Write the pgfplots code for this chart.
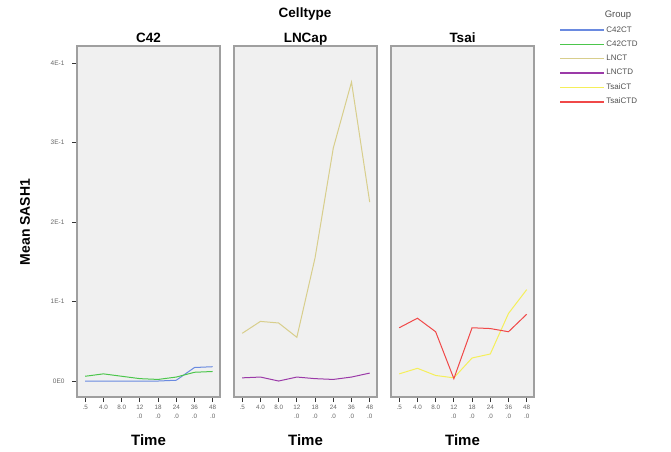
\documentclass[border=0pt]{standalone}
\usepackage{pgfplots}
\pgfplotsset{compat=1.18}
\usepackage{fontspec}
\setmainfont{Liberation Sans}
\definecolor{cblue}{HTML}{6A8AE0}
\definecolor{cgreen}{HTML}{4CC64C}
\definecolor{ckhaki}{HTML}{D8CE8C}
\definecolor{cpurple}{HTML}{9B3AA8}
\definecolor{cyellow}{HTML}{F5EF5A}
\definecolor{cred}{HTML}{F04848}
\definecolor{panelbg}{HTML}{F0F0F0}
\definecolor{ltext}{HTML}{505050}
\pgfplotsset{
  panel/.style={
    at={(#1pt,54pt)}, anchor=south west,
    scale only axis, width=143pt, height=351pt,
    xmin=-0.45, xmax=7.4, ymin=-0.0201, ymax=0.4214,
    axis background/.style={fill=panelbg},
    axis line style={gray!75, line width=1.3pt},
    xtick={0,...,7},
    xticklabels={.5,4.0,8.0,12\\.0,18\\.0,24\\.0,36\\.0,48\\.0},
    xticklabel style={font=\fontsize{6.3}{8.5}\selectfont, align=center, text=gray!80!black},
    xtick pos=bottom, ytick pos=left,
    tick align=outside, major tick length=5pt,
    tick style={black!80, line width=0.8pt},
    ytick=\empty,
    xlabel={\textbf{Time}},
    xlabel style={font=\fontsize{15}{16}\selectfont, at={(axis description cs:0.5,-0.1225)}, anchor=center},
    title style={font=\bfseries\fontsize{13.5}{14}\selectfont, at={(axis description cs:0.5,1)}, anchor=base, yshift=-2pt},
    every axis plot/.append style={line width=1pt, no markers},
    clip=true,
  }
}
\begin{document}
\begin{tikzpicture}
\path[use as bounding box] (0pt,0pt) rectangle (671pt,451pt);
\node[font=\bfseries\fontsize{13.5}{14}\selectfont] at (305pt,437pt) {Celltype};
\node[rotate=90, font=\bfseries\fontsize{14}{15}\selectfont] at (25pt,229pt) {Mean SASH1};
\node[font=\fontsize{9.5}{10}\selectfont, text=ltext] at (618pt,436pt) {Group};

\begin{axis}[panel=77, title={C42},
  ytick={0,0.1,0.2,0.3,0.4},
  yticklabels={0E0,1E-1,2E-1,3E-1,4E-1},
  yticklabel style={font=\fontsize{6.5}{7}\selectfont, text=gray!80!black, xshift=-4pt}]
\addplot[cblue] coordinates {(0,0.0) (1,0.0) (2,0.0) (3,0.0) (4,0.0) (5,0.001) (6,0.017) (7,0.018)};
\addplot[cgreen] coordinates {(0,0.006) (1,0.009) (2,0.006) (3,0.003) (4,0.002) (5,0.005) (6,0.011) (7,0.012)};
\end{axis}

\begin{axis}[panel=234, title={LNCap}]
\addplot[ckhaki] coordinates {(0,0.060) (1,0.075) (2,0.073) (3,0.055) (4,0.155) (5,0.293) (6,0.376) (7,0.225)};
\addplot[cpurple] coordinates {(0,0.004) (1,0.005) (2,0.0) (3,0.005) (4,0.003) (5,0.002) (6,0.005) (7,0.010)};
\end{axis}

\begin{axis}[panel=391, title={Tsai},
  legend style={at={(axis description cs:1.155,1.066)}, anchor=north west, draw=none, fill=none,
    font=\fontsize{8}{8.5}\selectfont, row sep=4.2pt,
    nodes={inner sep=1.5pt}},
  legend cell align=left,
  legend image code/.code={\draw[#1, line width=1.6pt] (0pt,0pt) -- (44pt,0pt);}]
\addlegendimage{draw=cblue}
\addlegendentry{\textcolor{ltext}{C42CT}}
\addlegendimage{draw=cgreen}
\addlegendentry{\textcolor{ltext}{C42CTD}}
\addlegendimage{draw=ckhaki}
\addlegendentry{\textcolor{ltext}{LNCT}}
\addlegendimage{draw=cpurple}
\addlegendentry{\textcolor{ltext}{LNCTD}}
\addlegendimage{draw=cyellow}
\addlegendentry{\textcolor{ltext}{TsaiCT}}
\addlegendimage{draw=cred}
\addlegendentry{\textcolor{ltext}{TsaiCTD}}
\addplot[cyellow, forget plot] coordinates {(0,0.009) (1,0.016) (2,0.007) (3,0.004) (4,0.029) (5,0.034) (6,0.085) (7,0.115)};
\addplot[cred, forget plot] coordinates {(0,0.067) (1,0.079) (2,0.062) (3,0.003) (4,0.067) (5,0.066) (6,0.062) (7,0.084)};
\end{axis}
\end{tikzpicture}
\end{document}
